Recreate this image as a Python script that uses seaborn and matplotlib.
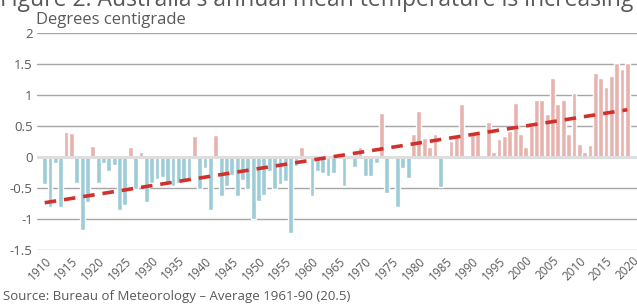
import matplotlib
matplotlib.use('Agg')
import matplotlib.pyplot as plt
import seaborn as sns
import numpy as np
import pandas as pd

# Annual mean temperature anomaly (degrees C, vs 1961-90 average), 1910-2019
years = list(range(1910, 2020))
anomaly = [
    -0.44, -0.81, -0.10, -0.81, 0.41, 0.39, -0.41, -1.18, -0.73, 0.18,   # 1910s
    -0.41, -0.09, -0.22, -0.13, -0.86, -0.78, 0.16, -0.51, 0.09, -0.73,  # 1920s
    -0.41, -0.35, -0.32, -0.40, -0.46, -0.41, -0.37, -0.34, 0.34, -0.51, # 1930s
    -0.18, -0.86, 0.36, -0.62, -0.47, -0.29, -0.62, -0.37, -0.52, -1.00, # 1940s
    -0.70, -0.61, -0.22, -0.52, -0.44, -0.38, -1.22, -0.15, 0.16, 0.03,  # 1950s
    -0.62, -0.22, -0.26, -0.30, -0.26, 0.06, -0.47, 0.02, -0.16, 0.17,   # 1960s
    -0.30, -0.30, -0.10, 0.72, -0.58, 0.02, -0.81, -0.18, -0.34, 0.37,   # 1970s
    0.74, 0.31, 0.17, 0.38, -0.48, 0.03, 0.26, 0.34, 0.86, -0.03,        # 1980s
    0.40, 0.37, 0.02, 0.56, 0.08, 0.30, 0.34, 0.42, 0.87, 0.38,          # 1990s
    0.16, 0.51, 0.93, 0.93, 0.70, 1.28, 0.85, 0.93, 0.37, 1.04,          # 2000s
    0.21, 0.08, 0.19, 1.36, 1.27, 1.13, 1.31, 1.52, 1.42, 1.52,          # 2010s
]
tick_years = list(range(1910, 2021, 5))
y_ticks = [-1.5, -1, -0.5, 0, 0.5, 1, 1.5, 2]

df = pd.DataFrame({'Year': years, 'Anomaly': anomaly})
df['Sign'] = np.where(df['Anomaly'] > 0, 'warm', 'cool')

sns.set_style('white')
plt.rcParams['font.family'] = ['Open Sans', 'DejaVu Sans']
txt = '#595959'

fig = plt.figure(figsize=(6.37, 3.05), dpi=100)
ax = fig.add_axes([0.058, 0.18, 0.942, 0.711])

ax.axhline(0, color='#dedede', lw=2.2, zorder=0.5)
sns.barplot(data=df, x='Year', y='Anomaly', hue='Sign', native_scale=True,
            palette={'warm': '#f0aba6', 'cool': '#92d3e0'}, dodge=False,
            width=0.9, legend=False, ax=ax, zorder=2)
# linear trend fitted to the same series
sns.regplot(data=df, x='Year', y='Anomaly', scatter=False, ci=None, truncate=True,
            line_kws=dict(color='#d0312d', lw=2.6, ls=(0, (3.2, 2.2))), ax=ax)
for l in ax.lines:
    l.set_zorder(3)

ax.set_ylim(-1.5, 2)
ax.set_xlim(1908.55, 2020.8)
ax.set_yticks(y_ticks)
ax.set_yticklabels([f'{v:g}' for v in y_ticks], fontsize=9.5, color=txt)
ax.set_xticks(tick_years)
ax.set_xticklabels([str(y) for y in tick_years], rotation=45, ha='right',
                   rotation_mode='anchor', fontsize=8.5, color=txt)
ax.tick_params(axis='both', length=0, pad=3)
ax.set_xlabel('')
ax.set_ylabel('')
ax.grid(axis='y', color='#a6a6a6', lw=1)
ax.set_axisbelow(True)
for s in ax.spines.values():
    s.set_visible(False)

fig.text(0.056, 1 - 24 / 305, 'Degrees centigrade', fontsize=12, color=txt, va='baseline')
fig.text(0.0, 1 - 6 / 305, "Figure 2: Australia's annual mean temperature is increasing",
         fontsize=16.5, color=txt, va='baseline')
fig.text(0.004, 1 - 300 / 305, 'Source: Bureau of Meteorology \u2013 Average 1961-90 (20.5)',
         fontsize=9.5, color=txt, va='baseline')

fig.savefig('out.png', dpi=100)
